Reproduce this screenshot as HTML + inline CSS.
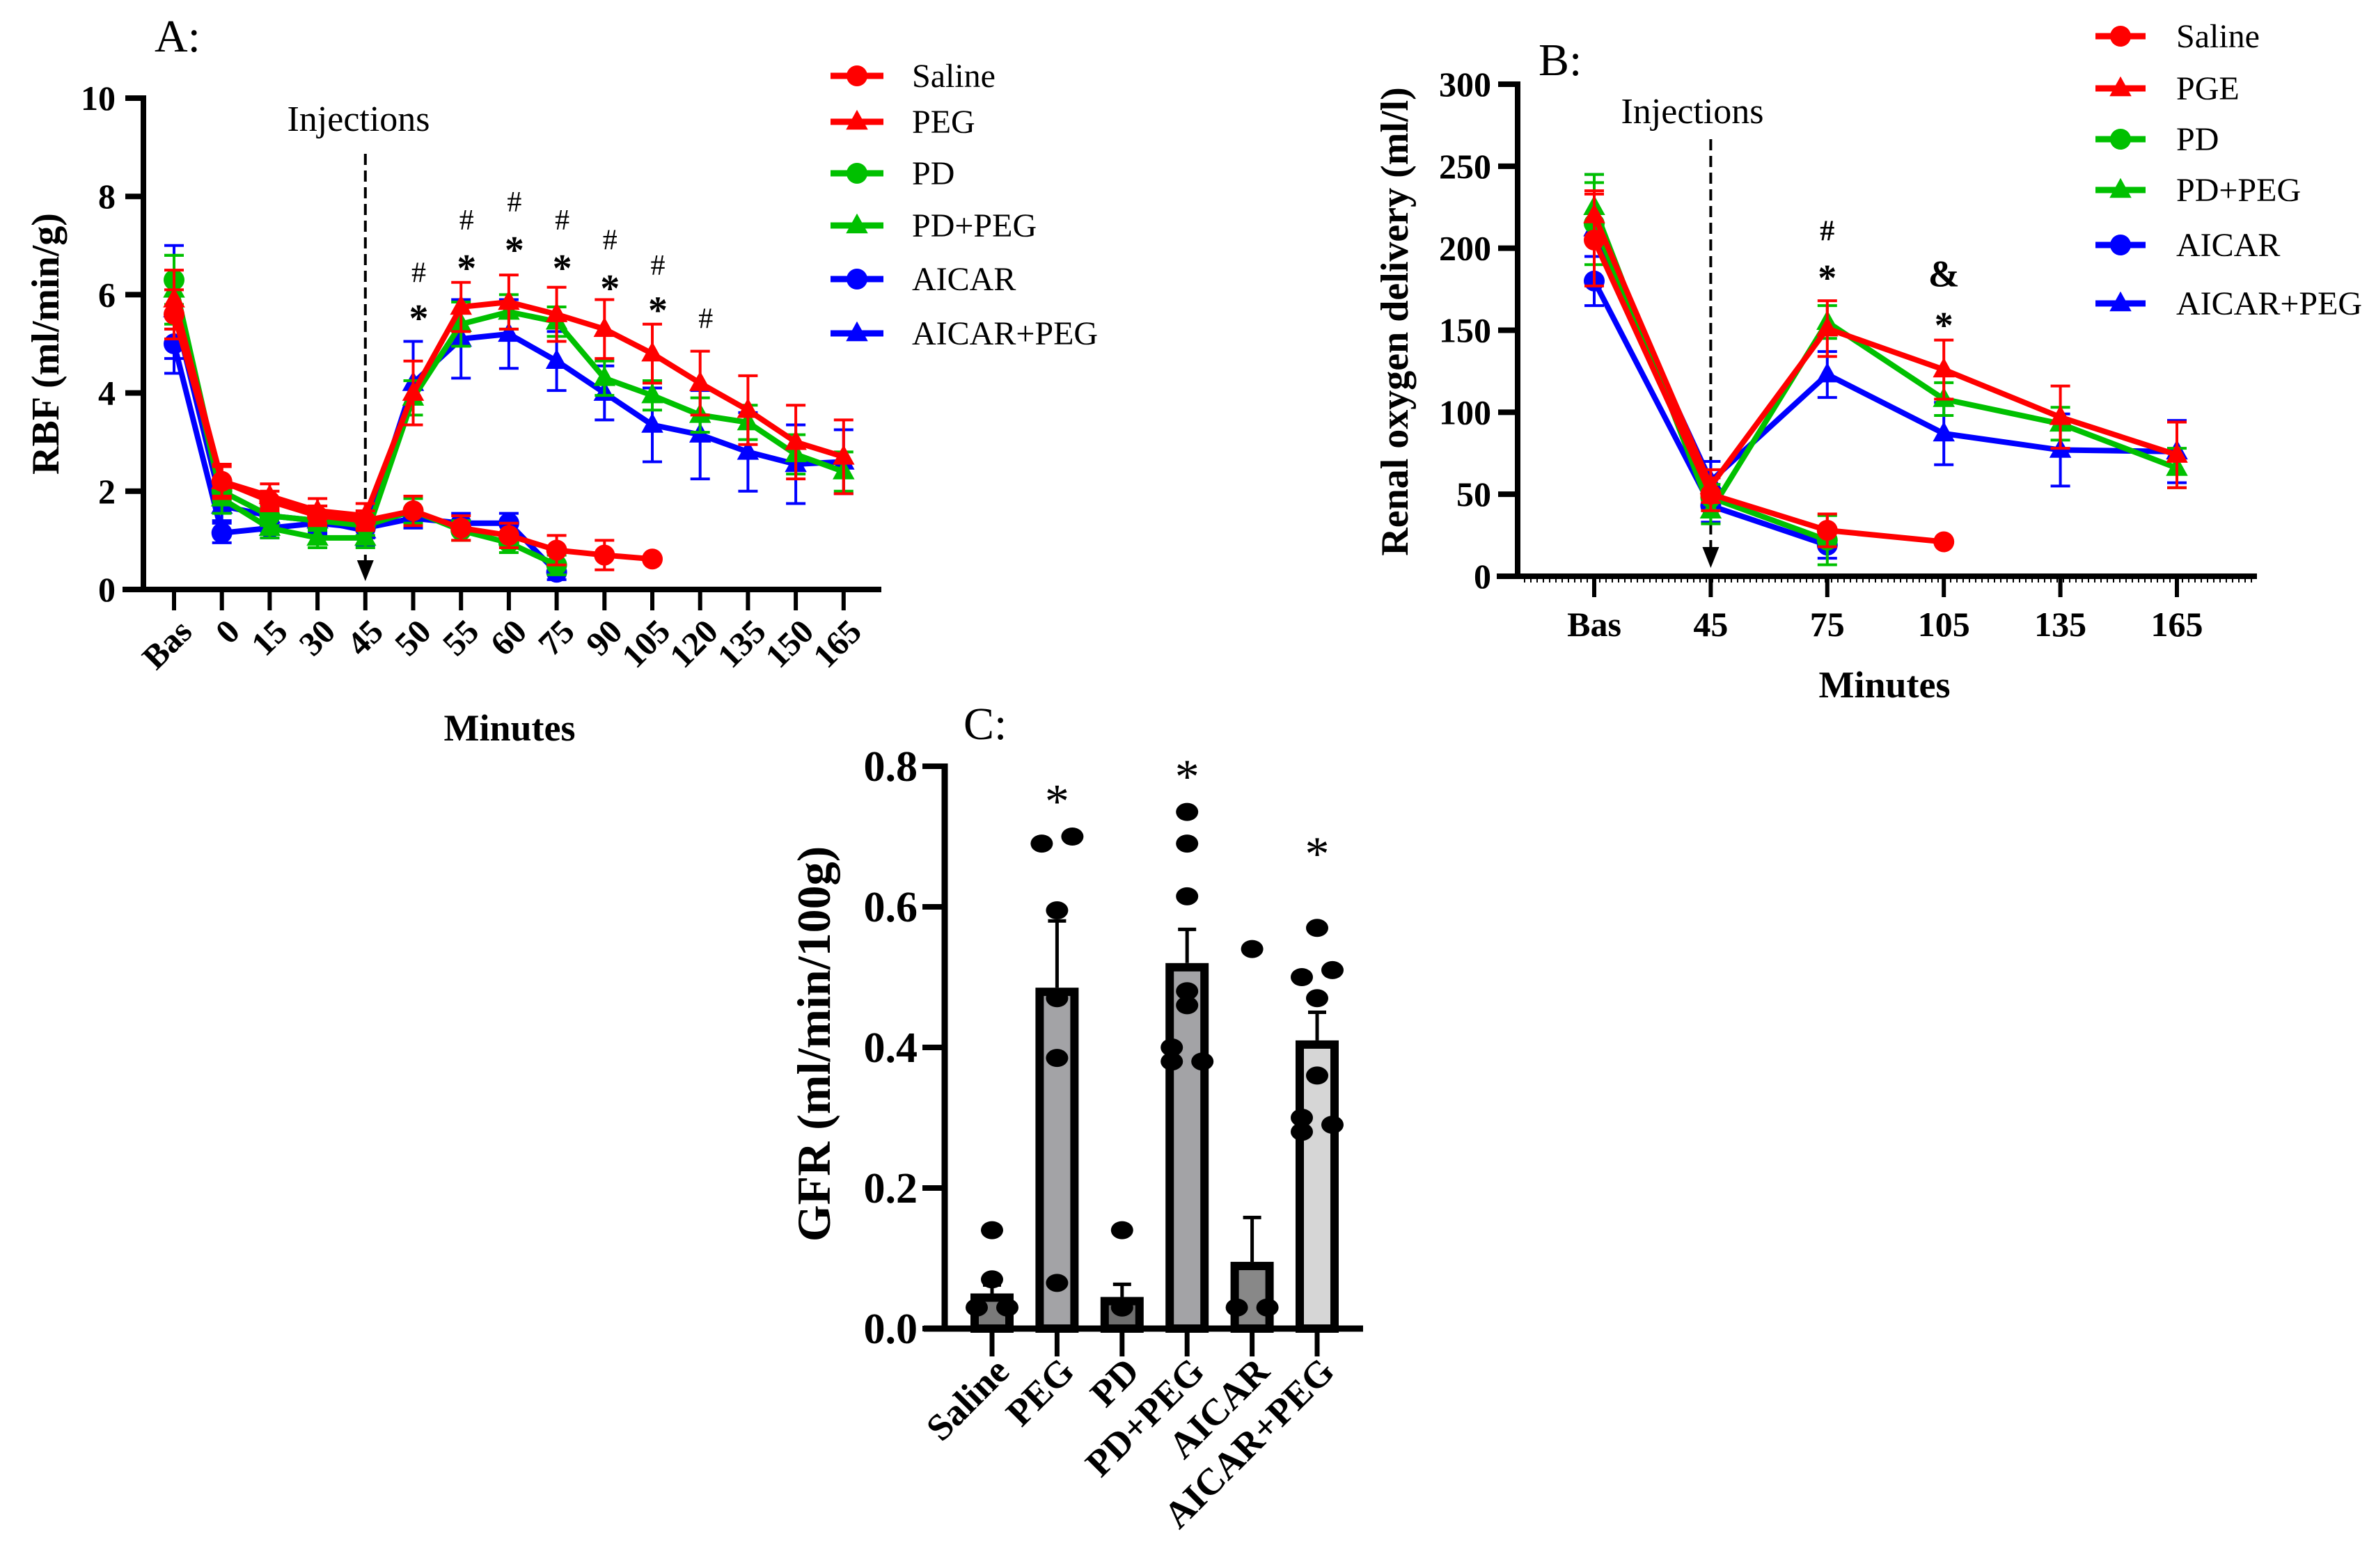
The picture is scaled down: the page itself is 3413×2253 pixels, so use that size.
<!DOCTYPE html>
<html><head><meta charset="utf-8">
<style>
html,body{margin:0;padding:0;background:#fff;}
svg{display:block;font-family:"Liberation Serif",serif;}
</style></head>
<body>
<svg id="fig" width="3413" height="2253" viewBox="0 0 3413 2253" xmlns="http://www.w3.org/2000/svg">
<g id="gA"></g>
<g id="gB"></g>
<g id="gC"></g>
</svg>
<script>
// ---------- Panel A data ----------
const catsA = ["Bas","0","15","30","45","50","55","60","75","90","105","120","135","150","165"];
const salineA = [5.6,2.2,1.8,1.5,1.4,1.6,1.25,1.1,0.8,0.7,0.62];
const salineAErr = [0.5,0.3,0.2,0.2,0.2,0.3,0.25,0.25,0.3,0.3,0.05];
const pegA = [5.9,2.2,1.9,1.6,1.5,4.0,5.75,5.85,5.6,5.3,4.8,4.2,3.65,3.0,2.7];
const pegAErr = [0.6,0.35,0.25,0.25,0.25,0.65,0.5,0.55,0.55,0.6,0.6,0.65,0.7,0.75,0.75];
const pdA = [6.3,2.0,1.5,1.4,1.3,1.6,1.2,0.95,0.5];
const pdAErr = [0.5,0.2,0.2,0.2,0.2,0.25,0.2,0.2,0.2];
const pdPegA = [6.1,1.85,1.25,1.05,1.05,3.9,5.4,5.65,5.45,4.3,3.95,3.55,3.4,2.75,2.4];
const pdPegAErr = [0.7,0.3,0.2,0.2,0.2,0.35,0.45,0.35,0.3,0.35,0.3,0.35,0.35,0.4,0.4];
const aicarA = [5.0,1.15,1.25,1.35,1.25,1.45,1.35,1.35,0.35];
const aicarAErr = [0.3,0.2,0.2,0.2,0.2,0.2,0.2,0.2,0.15];
const aicarPegA = [5.7,1.7,1.5,1.4,1.2,4.2,5.1,5.2,4.65,4.0,3.35,3.15,2.8,2.55,2.6];
const aicarPegAErr = [1.3,0.3,0.3,0.3,0.3,0.85,0.8,0.7,0.6,0.55,0.75,0.9,0.8,0.8,0.65];
const ticksA = [0,2,4,6,8,10];
const sigA = [["50","#",6.45],["50","*",5.68],["55","#",7.52],["55","*",6.7],["60","#",7.89],["60","*",7.07],["75","#",7.52],["75","*",6.7],["90","#",7.12],["90","*",6.29],["105","#",6.6],["105","*",5.84],["120","#",5.52]];
// ---------- Panel B data ----------
const catsB = ["Bas","45","75","105","135","165"];
const salineB = [205,50,28,21];
const salineBErr = [28,10,10,0];
const pgeB = [220,55,151,126,97,74];
const pgeBErr = [15,10,17,18,19,20];
const pdB = [215,48,22];
const pdBErr = [25,8,15];
const pdPegB = [225,40,155,108,93,66];
const pdPegBErr = [20,8,10,10,10,12];
const aicarB = [180,43,19];
const aicarBErr = [15,10,8];
const aicarPegB = [212,58,123,87,77,76];
const aicarPegBErr = [33,12,14,19,22,19];
const ticksB = [0,50,100,150,200,250,300];
const sigB = [["75","#",211],["75","*",187],["105","&",183],["105","*",158]];
// ---------- Panel C data ----------
const catsC = ["Saline","PEG","PD","PD+PEG","AICAR","AICAR+PEG"];
const meansC = [0.05,0.485,0.045,0.52,0.095,0.41];
const semC = [0.012,0.095,0.018,0.048,0.063,0.04];
const dotsC = [[0.14,0.07,0.03,0.03],[0.69,0.70,0.595,0.47,0.385,0.065],[0.14,0.03],[0.735,0.69,0.615,0.48,0.46,0.40,0.38,0.38],[0.54,0.03,0.03],[0.57,0.50,0.51,0.47,0.36,0.30,0.28,0.29]];
const dotSideC = [[0,0,-1,1],[-1,1,0,0,0,0],[0,0],[0,0,0,0,0,-1,-1,1],[0,-1,1],[0,-1,1,0,0,-1,-1,1]];
const fillsC = ["#7a7a7a","#a3a3a6","#6e6e6e","#a3a3a6","#888888","#d6d6d6"];
const ticksC = [0,0.2,0.4,0.6,0.8];
const starsC = [["PEG",0.765],["PD+PEG",0.80],["AICAR+PEG",0.69]];

const NS="http://www.w3.org/2000/svg";
function mk(parent,tag,attrs,txt){const e=document.createElementNS(NS,tag);for(const k in attrs)e.setAttribute(k,attrs[k]);if(txt!==undefined)e.textContent=txt;parent.appendChild(e);return e;}
const RED="#ff0000",GREEN="#00c000",BLUE="#0000ff";

function marker(g,shape,x,y,r,col){
  if(shape==="c") return mk(g,"circle",{cx:x,cy:y,r:r,fill:col});
  return mk(g,"polygon",{points:`${x},${y-r*1.15} ${x-r*1.05},${y+r*0.75} ${x+r*1.05},${y+r*0.75}`,fill:col});
}

function drawSeries(g,vals,errs,shape,col,X,Y,name,lw,r){
  const sg=mk(g,"g",{});
  
  
  for(let i=0;i<vals.length;i++){
    const x=X(i),yt=Y(vals[i]+errs[i]),yb=Y(vals[i]-errs[i]);
    if(errs[i]>0){
      mk(sg,"line",{x1:x,y1:yt,x2:x,y2:yb,stroke:col,"stroke-width":4});
      mk(sg,"line",{x1:x-14,y1:yt,x2:x+14,y2:yt,stroke:col,"stroke-width":4});
      mk(sg,"line",{x1:x-14,y1:yb,x2:x+14,y2:yb,stroke:col,"stroke-width":4});
    }
  }
  let d="";
  vals.forEach((v,i)=>{d+=(i?"L":"M")+X(i)+","+Y(v)+" ";});
  const p=mk(sg,"path",{d:d,fill:"none",stroke:col,"stroke-width":lw,"stroke-linejoin":"round"});
  
  
  vals.forEach((v,i)=>{
    const m=marker(sg,shape,X(i),Y(v),r,col);
    
    
  });
}

function legend(g,entries,lx1,lx2,tx,ys){
  entries.forEach((e,i)=>{
    const lg=mk(g,"g",{});
    
    
    mk(lg,"line",{x1:lx1,y1:ys[i],x2:lx2,y2:ys[i],stroke:e[2],"stroke-width":9});
    marker(lg,e[1],(lx1+lx2)/2,ys[i],15,e[2]);
    mk(lg,"text",{x:tx,y:ys[i]+16,"font-size":48},e[0]);
  });
}

// ================= Panel A =================
(function(){
  const g=document.getElementById("gA");
  const x0=206,y0=847,y10=141,bx=250,step=68.7;
  const X=i=>bx+i*step, Y=v=>y0-(y0-y10)*v/10;
  const t=mk(g,"text",{x:222,y:74,"font-size":66},"A:");
  
  mk(g,"line",{x1:x0,y1:y10-4,x2:x0,y2:y0+4,stroke:"#000","stroke-width":8});
  mk(g,"line",{x1:176,y1:y0,x2:1266,y2:y0,stroke:"#000","stroke-width":8});
  ticksA.forEach(v=>{
    mk(g,"line",{x1:180,y1:Y(v),x2:x0,y2:Y(v),stroke:"#000","stroke-width":8});
    const tl=mk(g,"text",{x:166,y:Y(v)+17,"font-size":50,"font-weight":"bold","text-anchor":"end"},String(v));
    
  });
  catsA.forEach((c,i)=>{
    mk(g,"line",{x1:X(i),y1:y0,x2:X(i),y2:877,stroke:"#000","stroke-width":6});
    const tl=mk(g,"text",{transform:`translate(${X(i)+18},${900}) rotate(-45)`,"font-size":49,"font-weight":"bold","text-anchor":"end",dy:"0.3em"},c);
    
  });
  const xt=mk(g,"text",{x:732,y:1064,"font-size":54,"font-weight":"bold","text-anchor":"middle"},"Minutes");
  
  const yt=mk(g,"text",{transform:"translate(84,494) rotate(-90)","font-size":56,"font-weight":"bold","text-anchor":"middle"},"RBF  (ml/min/g)");
  
  const inj=mk(g,"text",{x:515,y:188,"font-size":52,"text-anchor":"middle"},"Injections");
  
  mk(g,"line",{x1:X(4),y1:221,x2:X(4),y2:815,stroke:"#000","stroke-width":4,"stroke-dasharray":"16 8"});
  mk(g,"polygon",{points:`${X(4)-12},805 ${X(4)+12},805 ${X(4)},835`,fill:"#000"});
  drawSeries(g,aicarPegA,aicarPegAErr,"t",BLUE,X,Y,"aicar-peg-series",8,15);
  drawSeries(g,aicarA,aicarAErr,"c",BLUE,X,Y,"aicar-series",8,15);
  drawSeries(g,pdPegA,pdPegAErr,"t",GREEN,X,Y,"pd-peg-series",8,15);
  drawSeries(g,pdA,pdAErr,"c",GREEN,X,Y,"pd-series",8,15);
  drawSeries(g,pegA,pegAErr,"t",RED,X,Y,"peg-series",8,15);
  drawSeries(g,salineA,salineAErr,"c",RED,X,Y,"saline-series",8,15);
  sigA.forEach(s=>{
    const i=catsA.indexOf(s[0]);
    const st=mk(g,"text",{x:X(i)+8,y:Y(s[2])+(s[1]==="*"?30:14),"font-size":s[1]==="*"?56:42,"font-weight":s[1]==="*"?"bold":"normal","text-anchor":"middle"},s[1]);
    
  });
  legend(g,[["Saline","c",RED],["PEG","t",RED],["PD","c",GREEN],["PD+PEG","t",GREEN],["AICAR","c",BLUE],["AICAR+PEG","t",BLUE]],1193,1269,1310,[109,175,249,324,401,479]);
})();

// ================= Panel B =================
(function(){
  const g=document.getElementById("gB");
  const x0=2180,y0=828,yTop=121,bx=2290,step=167.4;
  const X=i=>bx+i*step, Y=v=>y0-(y0-yTop)*v/300;
  const t=mk(g,"text",{x:2210,y:108,"font-size":66},"B:");
  
  mk(g,"line",{x1:x0,y1:yTop-4,x2:x0,y2:y0+4,stroke:"#000","stroke-width":8});
  mk(g,"line",{x1:2150,y1:y0,x2:3242,y2:y0,stroke:"#000","stroke-width":8});
  for(let x=2190;x<3240;x+=9) mk(g,"line",{x1:x,y1:y0,x2:x,y2:y0+9,stroke:"#000","stroke-width":2});
  ticksB.forEach(v=>{
    mk(g,"line",{x1:2152,y1:Y(v),x2:x0,y2:Y(v),stroke:"#000","stroke-width":8});
    const tl=mk(g,"text",{x:2142,y:Y(v)+17,"font-size":50,"font-weight":"bold","text-anchor":"end"},String(v));
    
  });
  catsB.forEach((c,i)=>{
    mk(g,"line",{x1:X(i),y1:y0,x2:X(i),y2:858,stroke:"#000","stroke-width":6});
    const tl=mk(g,"text",{x:X(i),y:914,"font-size":50,"font-weight":"bold","text-anchor":"middle"},c);
    
  });
  const xt=mk(g,"text",{x:2707,y:1002,"font-size":54,"font-weight":"bold","text-anchor":"middle"},"Minutes");
  
  const yt=mk(g,"text",{transform:"translate(2022,462) rotate(-90)","font-size":56,"font-weight":"bold","text-anchor":"middle"},"Renal oxygen delivery (ml/l)");
  
  const inj=mk(g,"text",{x:2431,y:177,"font-size":52,"text-anchor":"middle"},"Injections");
  
  mk(g,"line",{x1:X(1),y1:200,x2:X(1),y2:790,stroke:"#000","stroke-width":4,"stroke-dasharray":"16 8"});
  mk(g,"polygon",{points:`${X(1)-12},786 ${X(1)+12},786 ${X(1)},816`,fill:"#000"});
  drawSeries(g,aicarPegB,aicarPegBErr,"t",BLUE,X,Y,"aicar-peg-series",8,15);
  drawSeries(g,aicarB,aicarBErr,"c",BLUE,X,Y,"aicar-series",8,15);
  drawSeries(g,pdPegB,pdPegBErr,"t",GREEN,X,Y,"pd-peg-series",8,15);
  drawSeries(g,pdB,pdBErr,"c",GREEN,X,Y,"pd-series",8,15);
  drawSeries(g,pgeB,pgeBErr,"t",RED,X,Y,"pge-series",8,15);
  drawSeries(g,salineB,salineBErr,"c",RED,X,Y,"saline-series",8,15);
  sigB.forEach(s=>{
    const i=catsB.indexOf(s[0]);
    const st=mk(g,"text",{x:X(i),y:Y(s[2])+(s[1]==="*"?30:15),"font-size":s[1]==="#"?42:54,"font-weight":"bold","text-anchor":"middle"},s[1]);
    
  });
  legend(g,[["Saline","c",RED],["PGE","t",RED],["PD","c",GREEN],["PD+PEG","t",GREEN],["AICAR","c",BLUE],["AICAR+PEG","t",BLUE]],3010,3082,3126,[52,127,200,273,352,436]);
})();

// ================= Panel C =================
(function(){
  const g=document.getElementById("gC");
  const x0=1357,y0=1909,yTop=1101,bx=1425,step=93.4,bw=62;
  const X=i=>bx+i*step, Y=v=>y0-(y0-yTop)*v/0.8;
  const t=mk(g,"text",{x:1384,y:1062,"font-size":66},"C:");
  
  ticksC.forEach(v=>{
    mk(g,"line",{x1:1325,y1:Y(v),x2:x0,y2:Y(v),stroke:"#000","stroke-width":8});
    const tl=mk(g,"text",{x:1318,y:Y(v)+21,"font-size":62,"font-weight":"bold","text-anchor":"end"},v.toFixed(1));
    
  });
  const yt=mk(g,"text",{transform:"translate(1192,1500) rotate(-90)","font-size":68,"font-weight":"bold","text-anchor":"middle"},"GFR (ml/min/100g)");
  
  catsC.forEach((c,i)=>{
    const x=X(i),yb=Y(meansC[i]);
    const b=mk(g,"rect",{x:x-bw/2+6,y:yb+6,width:bw-12,height:y0-yb-6,fill:fillsC[i],stroke:"#000","stroke-width":12});
    
    
    const ye=Y(meansC[i]+semC[i]);
    mk(g,"line",{x1:x,y1:yb,x2:x,y2:ye,stroke:"#000","stroke-width":5});
    mk(g,"line",{x1:x-13,y1:ye,x2:x+13,y2:ye,stroke:"#000","stroke-width":5});
    dotsC[i].forEach((v,j)=>{
      const d=mk(g,"ellipse",{cx:x+dotSideC[i][j]*22,cy:Y(v),rx:16,ry:13,fill:"#000"});
      
      
    });
    mk(g,"line",{x1:x,y1:y0,x2:x,y2:y0+40,stroke:"#000","stroke-width":7});
    const tl=mk(g,"text",{transform:`translate(${x+16},${1962}) rotate(-45)`,"font-size":54,"font-weight":"bold","text-anchor":"end",dy:"0.3em"},c);
    
  });
  mk(g,"line",{x1:x0,y1:yTop-4,x2:x0,y2:y0+4,stroke:"#000","stroke-width":9});
  mk(g,"line",{x1:1327,y1:y0,x2:1958,y2:y0,stroke:"#000","stroke-width":9});
  starsC.forEach(s=>{
    const i=catsC.indexOf(s[0]);
    const st=mk(g,"text",{x:X(i),y:Y(s[1])+38,"font-size":70,"text-anchor":"middle"},"*");
    
  });
})();
</script>
</body></html>
